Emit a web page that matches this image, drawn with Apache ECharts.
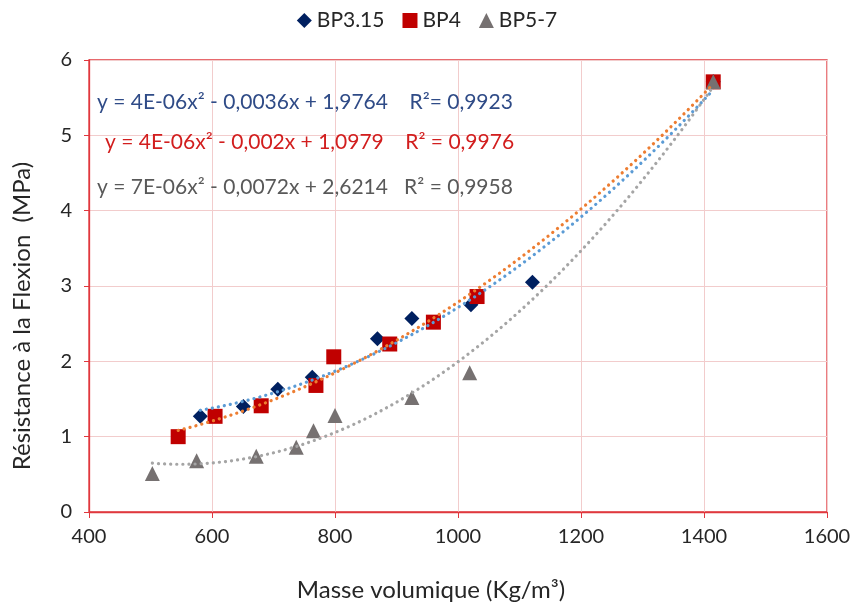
<!DOCTYPE html>
<html><head><meta charset="utf-8">
<script src="https://cdn.jsdelivr.net/npm/echarts@6/dist/echarts.min.js"></script>
<style>html,body{margin:0;padding:0;background:#fff}#c{width:854px;height:605px}</style>
</head><body><div id="c"></div>
<script>
const FONT = "Lato, 'Open Sans', sans-serif";
const seriesNames = ['BP3.15', 'BP4', 'BP5-7'];
const bp315X = [581, 651, 707, 763, 869, 925, 1021, 1121, 1415];
const bp315Y = [1.27, 1.40, 1.63, 1.79, 2.30, 2.57, 2.75, 3.05, 5.71];
const bp4X = [545, 605, 680, 769, 798, 889, 960, 1031, 1415];
const bp4Y = [1.00, 1.27, 1.41, 1.68, 2.06, 2.23, 2.52, 2.86, 5.71];
const bp57X = [503, 575, 672, 737, 765, 800, 925, 1019, 1415];
const bp57Y = [0.51, 0.68, 0.74, 0.86, 1.08, 1.28, 1.52, 1.85, 5.71];
const equations = [
  'y = 4E-06x² - 0,0036x + 1,9764    R²= 0,9923',
  'y = 4E-06x² - 0,002x + 1,0979    R² = 0,9976',
  'y = 7E-06x² - 0,0072x + 2,6214   R² = 0,9958'
];
const xName = 'Masse volumique (Kg/m³)';
const yName = 'Résistance à la Flexion  (MPa)';
const xTicks = [400, 600, 800, 1000, 1200, 1400, 1600];
const yTicks = [0, 1, 2, 3, 4, 5, 6];

function quadFit(xs, ys) {
  let n = xs.length, s = [0,0,0,0,0], t = [0,0,0];
  for (let i = 0; i < n; i++) {
    const x = xs[i], y = ys[i];
    let p = 1;
    for (let k = 0; k < 5; k++) { s[k] += p; p *= x; }
    t[0] += y; t[1] += y * x; t[2] += y * x * x;
  }
  const M = [[s[4], s[3], s[2], t[2]], [s[3], s[2], s[1], t[1]], [s[2], s[1], s[0], t[0]]];
  for (let i = 0; i < 3; i++) {
    let piv = i;
    for (let r = i + 1; r < 3; r++) if (Math.abs(M[r][i]) > Math.abs(M[piv][i])) piv = r;
    [M[i], M[piv]] = [M[piv], M[i]];
    for (let r = 0; r < 3; r++) {
      if (r === i) continue;
      const f = M[r][i] / M[i][i];
      for (let k = i; k < 4; k++) M[r][k] -= f * M[i][k];
    }
  }
  return [M[0][3] / M[0][0], M[1][3] / M[1][1], M[2][3] / M[2][2]];
}
function trend(xs, ys) {
  const [a, b, c] = quadFit(xs, ys);
  const lo = Math.min(...xs), hi = Math.max(...xs), out = [];
  const N = 120;
  for (let i = 0; i <= N; i++) {
    const x = lo + (hi - lo) * i / N;
    out.push([x, a * x * x + b * x + c]);
  }
  return out;
}
const zip = (xs, ys) => xs.map((x, i) => [x, ys[i]]);

const markerColors = ['#002060', '#C00000', '#767171'];
const trendColors = ['#5B9BD5', '#ED7D31', '#A5A5A5'];
const eqColors = ['#2F4B87', '#D21E1E', '#595959'];
const symbols = ['diamond', 'rect', 'triangle'];
const symbolSizes = [15, 15, 15];
const dataX = [bp315X, bp4X, bp57X], dataY = [bp315Y, bp4Y, bp57Y];

const series = [];
for (let i = 0; i < 3; i++) {
  series.push({
    name: seriesNames[i], type: 'scatter', data: zip(dataX[i], dataY[i]),
    symbol: symbols[i], symbolSize: symbolSizes[i],
    itemStyle: { color: markerColors[i], opacity: 1 }, z: 2 + i
  });
}
for (let i = 0; i < 3; i++) {
  series.push({
    name: seriesNames[i] + ' trend', type: 'line', data: trend(dataX[i], dataY[i]),
    showSymbol: false, symbol: 'none', silent: true, z: 10,
    lineStyle: { color: trendColors[i], width: 3.2, type: [0.1, 6], cap: 'round' }
  });
}

const chart = echarts.init(document.getElementById('c'), null, { renderer: 'canvas' });
chart.setOption({
  animation: false,
  textStyle: { fontFamily: FONT },
  legend: {
    data: seriesNames.map(n => ({ name: n })), top: 5, left: 'center',
    itemWidth: 15, itemHeight: 15, itemGap: 18,
    textStyle: { fontFamily: FONT, fontSize: 21, color: '#262626' }
  },
  grid: { left: 89, right: 27, top: 60, bottom: 93, show: true, borderColor: '#E0383E', borderWidth: 1.3 },
  xAxis: {
    type: 'value', min: xTicks[0], max: xTicks[xTicks.length - 1], interval: 200,
    axisLine: { show: true, lineStyle: { color: '#E0383E', width: 1.3 } },
    axisTick: { show: true, length: 6, lineStyle: { color: '#E0383E' } },
    axisLabel: { fontFamily: FONT, fontSize: 20, color: '#262626', margin: 15, formatter: v => String(v) },
    splitLine: { show: true, lineStyle: { color: '#F2CCCC', width: 1 } }
  },
  yAxis: {
    type: 'value', min: yTicks[0], max: yTicks[yTicks.length - 1], interval: 1,
    axisLine: { show: true, lineStyle: { color: '#E0383E', width: 1.3 } },
    axisTick: { show: true, length: 5, lineStyle: { color: '#E0383E' } },
    axisLabel: { fontFamily: FONT, fontSize: 20, color: '#262626', margin: 17, formatter: v => String(v) },
    splitLine: { show: true, lineStyle: { color: '#F2CCCC', width: 1 } }
  },
  graphic: [
    { type: 'text', x: 431, y: 590, z: 20, style: { text: xName, fill: '#262626', font: '24px ' + FONT, align: 'center', verticalAlign: 'middle' } },
    { type: 'text', x: 22, y: 316, rotation: Math.PI / 2, z: 20, style: { text: yName, fill: '#262626', font: '24px ' + FONT, align: 'center', verticalAlign: 'middle' } },
    { type: 'text', x: 97, y: 102, z: 20, style: { text: equations[0], fill: eqColors[0], font: '21px ' + FONT, verticalAlign: 'middle' } },
    { type: 'text', x: 105, y: 142, z: 20, style: { text: equations[1], fill: eqColors[1], font: '21px ' + FONT, verticalAlign: 'middle' } },
    { type: 'text', x: 97, y: 187, z: 20, style: { text: equations[2], fill: eqColors[2], font: '21px ' + FONT, verticalAlign: 'middle' } }
  ],
  series: series
});
</script></body></html>
